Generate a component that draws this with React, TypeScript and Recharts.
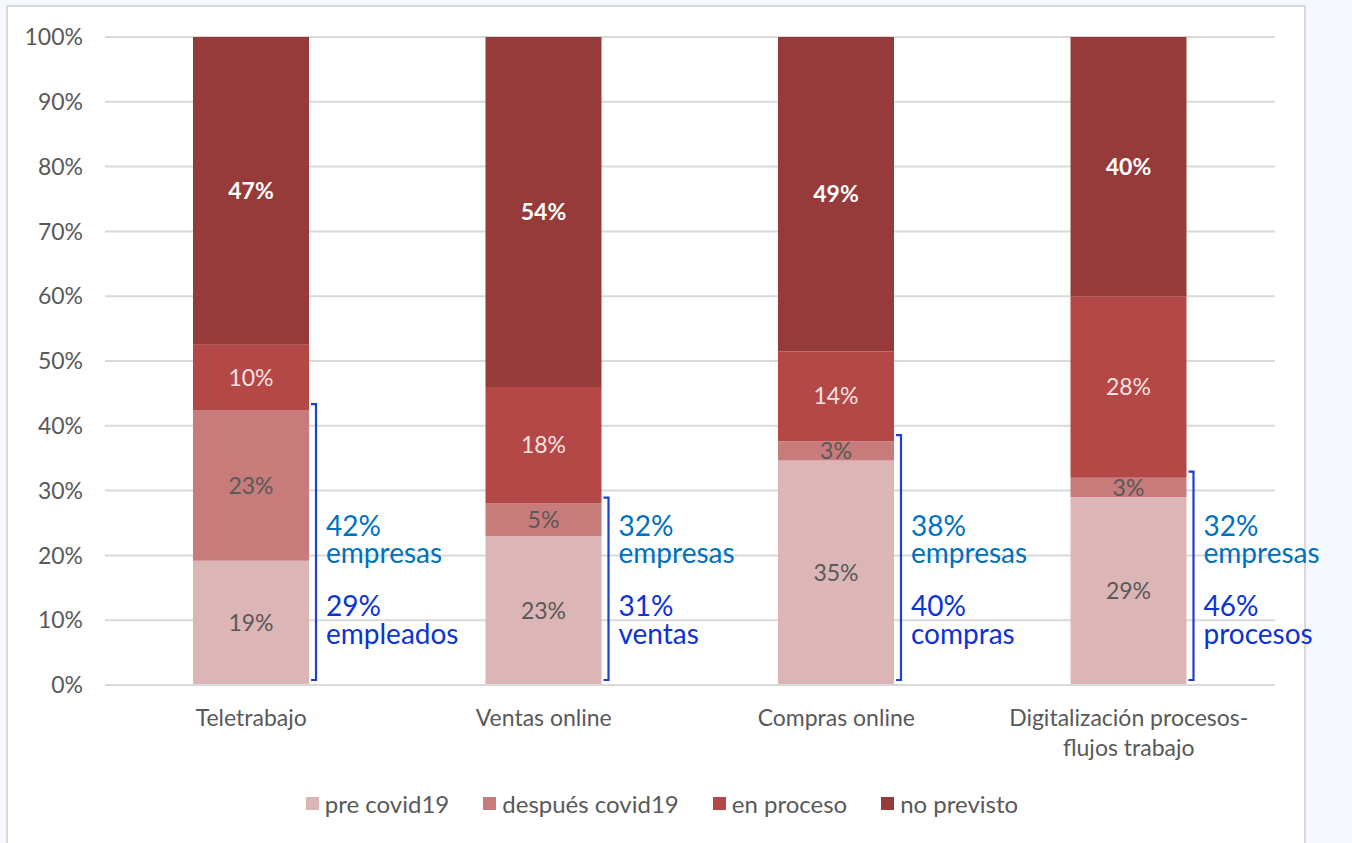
import { BarChart, Bar, XAxis, YAxis, CartesianGrid, LabelList } from 'recharts';

const categories = ['Teletrabajo', 'Ventas online', 'Compras online', 'Digitalización procesos-\nflujos trabajo'];
const preCovid = [19, 23, 35, 29];
const despuesCovid = [23, 5, 3, 3];
const enProceso = [10, 18, 14, 28];
const noPrevisto = [47, 54, 49, 40];

// blue side notes next to each bar
const empresasPct = [42, 32, 38, 32];
const detallePct = [29, 31, 40, 46];
const detalleLabel = ['empleados', 'ventas', 'compras', 'procesos'];

const yTicks = [0, 10, 20, 30, 40, 50, 60, 70, 80, 90, 100];

const seriesNames = ['pre covid19', 'después covid19', 'en proceso', 'no previsto'];
const COLORS = ['#dcb5b6', '#c77b7b', '#b34846', '#963a3a'];

const W = 1352;
const H = 843;
const X_AXIS_H = 30;
const margin = { top: 37, right: 77, bottom: 128, left: 30 };
const plotBottom = H - margin.bottom - X_AXIS_H;
const FONT = 'Lato, "Open Sans", sans-serif';
const GRAY = '#595959';

const data = categories.map((name, i) => ({
  name,
  pre: preCovid[i],
  despues: despuesCovid[i],
  proceso: enProceso[i],
  noprev: noPrevisto[i],
}));

function CategoryTick(props: any) {
  const { x, y, payload } = props;
  const lines = String(payload.value).split('\n');
  return (
    <g>
      {lines.map((l, i) => (
        <text key={i} x={x} y={y + 33 + i * 30} textAnchor="middle" fill={GRAY} fontSize={23} fontFamily={FONT}>
          {l}
        </text>
      ))}
    </g>
  );
}

function SideNote(props: any) {
  const vb = props.viewBox || props;
  const { x, y, width } = vb;
  const i = props.index ?? 0;
  const bx = x + width + 7;
  const tx = x + width + 17;
  return (
    <g fontFamily={FONT} fontSize={28}>
      <path d={`M${bx - 5},${y - 6} H${bx} V${plotBottom - 5} H${bx - 5}`} fill="none" stroke="#1f3fd1" strokeWidth={2.2} />
      <text x={tx} y={536} fill="#0070c0">{empresasPct[i]}%</text>
      <text x={tx} y={563} fill="#0070c0">empresas</text>
      <text x={tx} y={616} fill="#0b33d6">{detallePct[i]}%</text>
      <text x={tx} y={644} fill="#0b33d6">{detalleLabel[i]}</text>
    </g>
  );
}

function LegendBox() {
  return (
    <div style={{ position: 'absolute', left: 0, top: 789, width: W, display: 'flex', justifyContent: 'center', gap: 34, fontFamily: FONT, fontSize: 24, color: GRAY, paddingRight: 28, boxSizing: 'border-box' }}>
      {seriesNames.map((s, i) => (
        <div key={s} style={{ display: 'flex', alignItems: 'center', gap: 6 }}>
          <span style={{ display: 'inline-block', width: 13, height: 13, background: COLORS[i] }} />
          <span>{s}</span>
        </div>
      ))}
    </div>
  );
}

export default function App() {
  const pct = (v: any) => `${v}%`;
  const lbl = { fontSize: 23, fontFamily: FONT };
  return (
    <div style={{ position: 'absolute', left: 0, top: 0, width: W, height: H, background: '#f5f8fc', overflow: 'hidden' }}>
      <div style={{ position: 'absolute', left: 6, top: 5, width: 1300, height: 850, background: '#fff', border: '2px solid #d9d9d9', boxSizing: 'border-box' }} />
      <div style={{ position: 'absolute', left: 0, top: 0 }}>
        <BarChart width={W} height={H} data={data} margin={margin} stackOffset="expand" barSize={116}>
          <CartesianGrid vertical={false} stroke="#d9d9d9" strokeWidth={2} />
          <XAxis dataKey="name" height={X_AXIS_H} tick={<CategoryTick />} tickLine={false} axisLine={{ stroke: '#d9d9d9', strokeWidth: 2 }} interval={0} />
          <YAxis
            width={75}
            domain={[0, 1]}
            ticks={yTicks.map(t => t / 100)}
            tickFormatter={(v: number) => `${Math.round(v * 100)}%`}
            tick={{ fill: GRAY, fontSize: 23, fontFamily: FONT }}
            tickLine={false}
            axisLine={false}
            tickMargin={16}
          />
          <Bar dataKey="pre" stackId="a" fill={COLORS[0]} isAnimationActive={false}>
            <LabelList dataKey="pre" position="center" formatter={pct} fill={GRAY} {...lbl} />
          </Bar>
          <Bar dataKey="despues" stackId="a" fill={COLORS[1]} isAnimationActive={false}>
            <LabelList dataKey="despues" position="center" formatter={pct} fill={GRAY} {...lbl} />
            <LabelList dataKey="despues" content={<SideNote />} />
          </Bar>
          <Bar dataKey="proceso" stackId="a" fill={COLORS[2]} isAnimationActive={false}>
            <LabelList dataKey="proceso" position="center" formatter={pct} fill="#f6e0e0" {...lbl} />
          </Bar>
          <Bar dataKey="noprev" stackId="a" fill={COLORS[3]} isAnimationActive={false}>
            <LabelList dataKey="noprev" position="center" formatter={pct} fill="#fff" fontWeight="bold" {...lbl} />
          </Bar>
        </BarChart>
      </div>
      <LegendBox />
    </div>
  );
}
